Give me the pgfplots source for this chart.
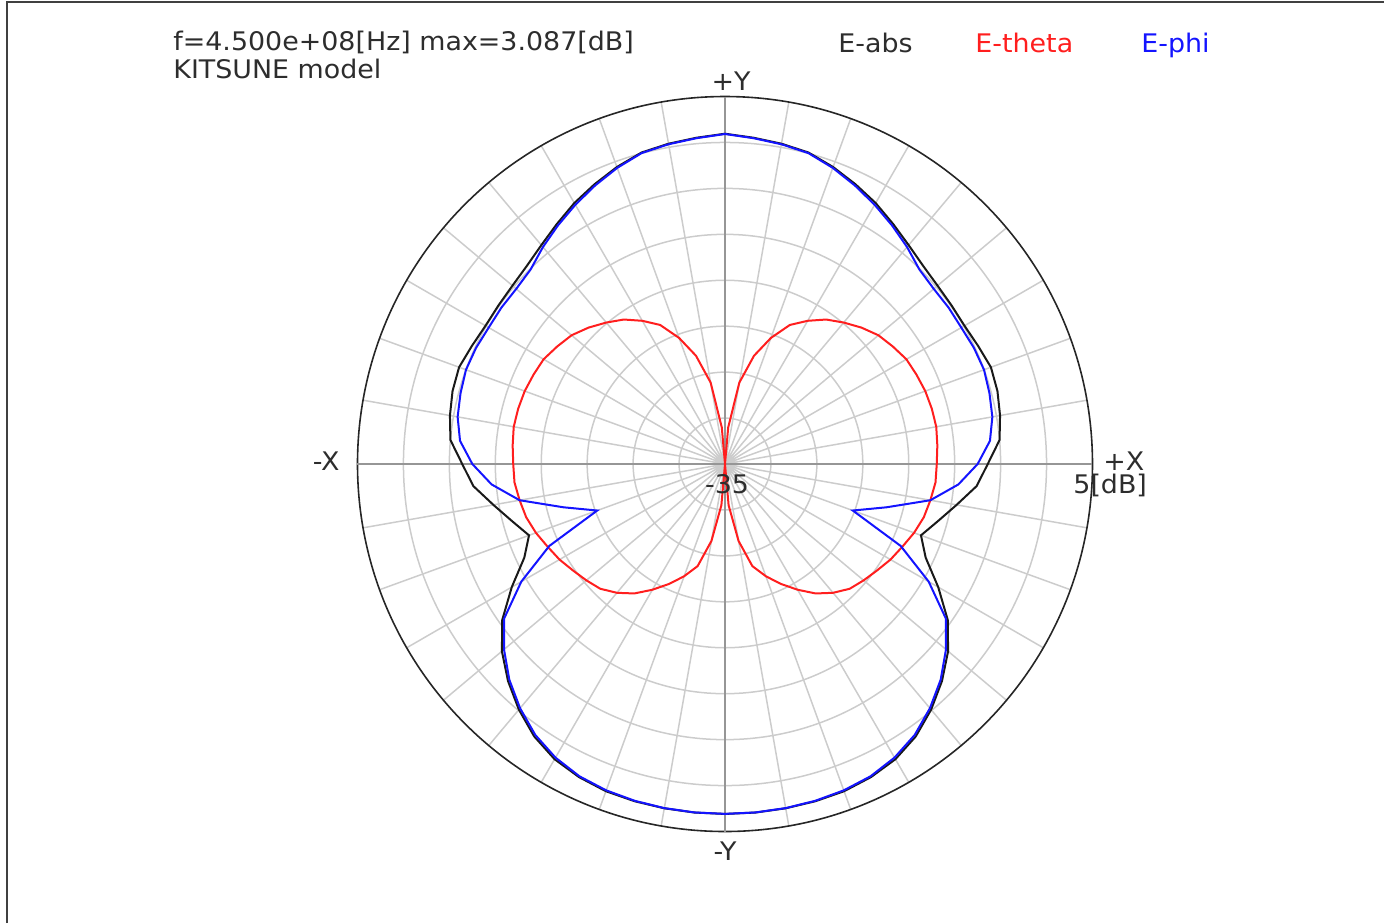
\documentclass[border=0pt]{standalone}
\usepackage{fontspec}
\setmainfont{DejaVu Sans}[FakeStretch=1.05]
\usepackage{pgfplots}
\usepackage{pgfplotstable}
\usepgfplotslibrary{polar}
\pgfplotsset{compat=1.18}

\definecolor{gridgray}{RGB}{204,204,204}
\definecolor{axgray}{RGB}{150,150,150}
\definecolor{txtgray}{RGB}{45,45,45}
\definecolor{thetared}{RGB}{255,30,30}
\definecolor{phiblue}{RGB}{20,20,255}

% angle [deg], E-abs, E-theta, E-phi [dB]
\pgfplotstableread{
ang eabs etheta ephi
-90 3.087 -35.0 3.08
-85 3.08 -30.5 3.07
-80 3.05 -26.5 3.03
-75 3.00 -23.5 2.95
-70 2.90 -22.0 2.80
-65 2.60 -20.6 2.50
-60 2.10 -19.2 1.90
-55 1.20 -17.8 1.00
-50 -0.10 -16.7 -0.30
-45 -1.60 -15.8 -1.80
-40 -3.30 -15.3 -3.60
-35 -5.40 -14.8 -5.64
-30 -8.20 -14.2 -9.40
-25 -10.9 -13.7 -13.9
-20 -12.3 -13.1 -20.2
-15 -11.0 -12.6 -16.8
-10 -9.40 -12.3 -12.3
-5 -7.50 -12.0 -9.50
0 -6.40 -11.95 -7.50
5 -5.00 -11.8 -6.05
10 -4.60 -11.65 -5.45
15 -4.30 -11.7 -5.20
20 -4.20 -11.8 -5.00
25 -4.60 -12.0 -5.10
30 -4.90 -12.2 -5.30
35 -4.90 -12.7 -5.30
40 -4.80 -13.2 -5.34
45 -4.50 -14.0 -5.07
50 -3.90 -14.9 -4.17
55 -3.10 -15.8 -3.30
60 -2.20 -17.0 -2.42
65 -1.40 -18.3 -1.55
70 -0.60 -20.4 -0.70
75 0.10 -22.8 0.04
80 0.40 -26.0 0.34
85 0.65 -31.0 0.60
90 0.95 -35.0 0.92
95 0.65 -31.0 0.60
100 0.40 -26.0 0.34
105 0.10 -22.8 0.04
110 -0.60 -20.4 -0.70
115 -1.40 -18.3 -1.55
120 -2.20 -17.0 -2.42
125 -3.10 -15.8 -3.30
130 -3.90 -14.9 -4.17
135 -4.50 -14.0 -5.07
140 -4.80 -13.2 -5.34
145 -4.90 -12.7 -5.30
150 -4.90 -12.2 -5.30
155 -4.60 -12.0 -5.10
160 -4.20 -11.8 -5.00
165 -4.30 -11.7 -5.20
170 -4.60 -11.65 -5.45
175 -5.00 -11.8 -6.05
180 -6.40 -11.95 -7.50
185 -7.50 -12.0 -9.50
190 -9.40 -12.3 -12.3
195 -11.0 -12.6 -16.8
200 -12.3 -13.1 -20.2
205 -10.9 -13.7 -13.9
210 -8.20 -14.2 -9.40
215 -5.40 -14.8 -5.64
220 -3.30 -15.3 -3.60
225 -1.60 -15.8 -1.80
230 -0.10 -16.7 -0.30
235 1.20 -17.8 1.00
240 2.10 -19.2 1.90
245 2.60 -20.6 2.50
250 2.90 -22.0 2.80
255 3.00 -23.5 2.95
260 3.05 -26.5 3.03
265 3.08 -30.5 3.07
270 3.087 -35.0 3.08
}\fielddata

\begin{document}
\begin{tikzpicture}[x=1pt,y=1pt]
\fontsize{12.8}{15}\selectfont
\begin{polaraxis}[
  at={(0,0)}, anchor=center,
  width=367.5pt, height=367.5pt, scale only axis,
  ymin=0, ymax=40,
  xtick={0,10,...,350},
  ytick={5,10,...,35},
  xticklabels={}, yticklabels={},
  major tick length=0pt,
  grid=major,
  major grid style={gridgray, line width=0.75pt},
  axis line style={black!85, line width=0.8pt},
  clip=false,
]
\draw[axgray, line width=1.4pt] (axis cs:0,40) -- (axis cs:180,40);
\draw[axgray, line width=1.4pt] (axis cs:90,40) -- (axis cs:270,40);
\addplot[black!90, line width=1pt, no marks] table[x=ang, y expr=\thisrow{eabs}+35] {\fielddata};
\addplot[thetared, line width=1pt, no marks] table[x=ang, y expr=\thisrow{etheta}+35] {\fielddata};
\addplot[phiblue, line width=1pt, no marks] table[x=ang, y expr=\thisrow{ephi}+35] {\fielddata};
\end{polaraxis}

\node[anchor=base west, txtgray, inner sep=0] at (-276,207) {f=4.500e+08[Hz] max=3.087[dB]};
\node[anchor=base west, txtgray, inner sep=0] at (-276,193) {KITSUNE model};
\node[anchor=base west, txtgray, inner sep=0] at (56.5,206) {E-abs};
\node[anchor=base west, thetared, inner sep=0] at (125,206) {E-theta};
\node[anchor=base west, phiblue, inner sep=0] at (208,206) {E-phi};

\node[anchor=base, txtgray, inner sep=0] at (3,187) {+Y};
\node[anchor=base, txtgray, inner sep=0] at (0,-198) {-Y};
\node[anchor=base east, txtgray, inner sep=0] at (-192.5,-3) {-X};
\node[anchor=base west, txtgray, inner sep=0] at (189,-3) {+X};
\node[anchor=base west, txtgray, inner sep=0] at (174,-14.5) {5[dB]};
\node[anchor=base, txtgray, inner sep=0] at (1,-14.5) {-35};

\draw[black!75, line width=0.6pt] (-359,-229.5) -- (-359,231) -- (329.5,231);
\pgfresetboundingbox
\useasboundingbox (-362.5,-229.5) rectangle (329.5,232);
\end{tikzpicture}
\end{document}
